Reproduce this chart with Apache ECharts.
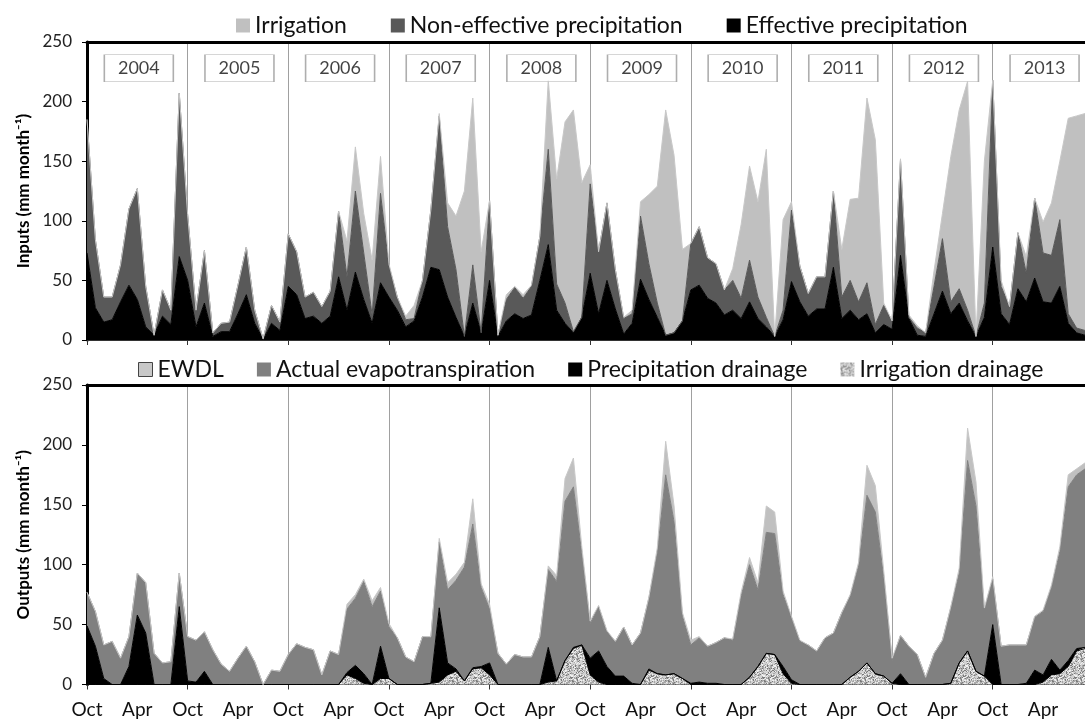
<!DOCTYPE html>
<html><head><meta charset="utf-8">
<script src="https://cdn.jsdelivr.net/npm/echarts@6/dist/echarts.min.js"></script>
<style>html,body{margin:0;padding:0;background:#fff}#c{width:1085px;height:720px}</style>
</head><body><div id="c"></div><script>
// ---- data ----
const monthAbbr = ['Oct','Nov','Dec','Jan','Feb','Mar','Apr','May','Jun','Jul','Aug','Sep'];
const tickLabels = ['Oct','Apr'];
const yearLabels = ['2004','2005','2006','2007','2008','2009','2010','2011','2012','2013'];
const categories = [];
for (let y = 0; y < 10; y++) for (let m = 0; m < 12; m++) categories.push(monthAbbr[m] + ' ' + (m < 3 ? 2003 + y : 2004 + y));

const effectivePrecip = [73,27,15,17,32,46,34,11,4,20,13,70,50,11,31,3,7,7,22,38,14,0.5,14,8,45,38,18,20,14,20,
53,25,57,34,14,48,36,25,11,16,36,61,59,36,19,3,31,6,50,3,16,22,18,21,50,80,25,14,6,19,
56,22,50,26,5,14,51,34,19,4,6,16,42,46,35,31,21,25,18,32,18,11,3,17,49,32,20,26,26,61,
18,25,17,22,6,13,9,71,18,4,3,22,41,22,31,16,3,19,78,22,13,43,32,52,32,31,45,14,6,4];
const nonEffectivePrecip = [112,57,21,19,31,64,93,34,0,22,12,137,55,14,44,3,7,8,24,40,11,0.5,15,7,44,36,18,20,14,21,
55,28,68,39,7,75,26,11,6,2,14,48,129,59,40,0,32,0,67,1,18,22,17,24,37,80,22,17,1,0,
75,52,65,33,13,8,53,30,12,0,0,0,39,49,34,33,21,25,17,35,18,8,0,8,60,30,19,27,27,64,
18,25,15,26,7,16,7,80,1,6,3,23,44,10,12,9,0,12,140,23,15,47,24,67,41,40,56,8,4,4];
const irrigation = [0,0,0,0,0,0,0,0,0,0,0,0,0,0,0,0,0,0,0,0,0,0,0,0,0,0,0,0,0,0,
0,30,37,33,46,31,2,0,3,11,0,0,2,20,45,122,140,68,0,0,4,1,3,1,0,58,88,152,186,113,
16,0,0,0,1,3,12,58,98,189,149,60,0,0,0,0,0,10,62,79,80,141,0,76,7,0,0,0,0,0,
40,68,87,155,155,2,0,1,2,2,0,13,21,122,150,192,0,119,0,5,0,0,14,0,26,44,49,164,178,182];

const irrigationDrainage = [0,0,0,0,0,0,0,0,0,0,0,0,0,0,0,0,0,0,0,0,0,0,0,0,0,0,0,0,0,0,
0,8,5,1,0,5,5,0,0,0,0,1,2,8,11,3,13,14,8,0,0,0,0,0,0,2,3,20,30,33,
8,2,0,0,0,0,0,12,9,8,9,5,0,0,0,0,0,0,0,6,15,26,25,9,1,0,0,0,0,0,
0,6,11,18,9,7,1,0,0,0,0,0,0,1,18,28,11,7,0,0,0,0,0,0,2,8,9,15,28,30];
const precipDrainage = [49,32,5,0,0,15,58,43,0,0,0,65,3,2,11,0,0,0,0,0,0,0,0,0,0,0,0,0,0,0,
0,2,11,8,0,27,0,0,0,0,0,0,62,10,2,0,1,1,10,0,0,0,0,0,0,29,0,0,1,0,
14,26,15,7,7,1,0,1,0,0,0,0,1,2,1,1,0,0,0,0,0,0,0,6,3,0,0,0,0,0,
0,0,0,0,0,0,0,9,0,0,0,0,0,0,0,0,0,0,50,0,0,0,1,12,6,13,3,5,2,1];
const actualET = [28,29,28,36,22,25,35,42,26,18,19,28,37,35,33,29,17,11,22,32,19,0,12,11,25,34,31,29,8,28,
25,53,56,77,65,46,43,39,23,19,40,38,55,61,74,95,120,66,45,26,17,25,23,23,40,65,83,133,134,77,
29,37,29,29,41,32,43,59,101,167,127,52,32,37,31,34,39,37,74,94,64,101,101,60,52,36,33,28,39,43,
60,68,88,140,135,83,19,32,32,25,6,26,37,63,75,159,138,55,38,32,33,33,32,44,53,60,99,145,145,149];
const ewdl = [0,0,0,0,0,0,0,0,0,0,0,0,0,0,0,0,0,0,0,0,0,0,0,0,0,0,0,0,0,0,
0,4,3,2,5,3,3,0,0,0,0,1,3,6,5,4,21,3,4,0,0,0,0,0,0,3,5,19,24,5,
2,1,1,0,0,0,0,1,4,28,13,3,4,1,0,0,0,1,3,6,6,22,18,3,1,1,0,0,0,0,
0,1,3,25,22,5,2,0,0,0,0,0,0,1,4,27,20,2,2,0,0,0,0,1,1,2,4,10,5,5];

// ---- style helpers ----
function makeTexture() {
  const c = document.createElement('canvas'); c.width = 24; c.height = 24;
  const ctx = c.getContext('2d');
  ctx.fillStyle = '#d2d2d2'; ctx.fillRect(0, 0, 24, 24);
  for (let y = 0; y < 24; y++) for (let x = 0; x < 24; x++) {
    const h = Math.abs(Math.sin(x * 12.9898 + y * 78.233) * 43758.5453) % 1;
    if (h < 0.12) { ctx.fillStyle = '#7a7a7a'; ctx.fillRect(x, y, 1, 1); }
    else if (h < 0.35) { ctx.fillStyle = '#a8a8a8'; ctx.fillRect(x, y, 1, 1); }
    else if (h > 0.8) { ctx.fillStyle = '#f0f0f0'; ctx.fillRect(x, y, 1, 1); }
  }
  return c;
}
const tex = makeTexture();
const FONT = 'Lato, "Open Sans", sans-serif';

const gridLeft = 87, gridWidth = 1007;
function xBottomAxis(gi, showLabels) {
  return {
    type: 'category', gridIndex: gi, data: categories, boundaryGap: false,
    axisLine: { lineStyle: { color: '#333', width: 1 } },
    axisTick: { interval: 11, length: 5, lineStyle: { color: '#333' } },
    axisLabel: {
      show: showLabels, interval: 5, margin: 16, fontSize: 19, color: '#111', fontFamily: FONT,
      formatter: (v, i) => tickLabels[(i / 6) % 2]
    },
    splitLine: { show: true, interval: 11, lineStyle: { color: '#a0a0a0', width: 1 } }
  };
}
function xTopAxis(gi) {
  return {
    type: 'category', gridIndex: gi, data: categories, boundaryGap: false, position: 'top',
    axisLine: { lineStyle: { color: '#000', width: 3 } },
    axisTick: { show: false }, axisLabel: { show: false }, splitLine: { show: false }
  };
}
function yAxis(gi, name) {
  return {
    type: 'value', gridIndex: gi, min: 0, max: 250, interval: 50,
    axisLine: { show: true, lineStyle: { color: '#000', width: 3 } },
    axisTick: { show: true, length: 5, lineStyle: { color: '#000', width: 1 } },
    axisLabel: { fontSize: 17, color: '#222', margin: 15, fontFamily: FONT },
    splitLine: { show: false },
    name: name, nameLocation: 'middle', nameGap: 50,
    nameTextStyle: { fontSize: 17, fontWeight: 'bold', color: '#000', fontFamily: FONT }
  };
}
function area(name, data, gi, stack, color, lineColor, extra) {
  return Object.assign({
    name, type: 'line', data, xAxisIndex: gi * 2, yAxisIndex: gi, stack,
    showSymbol: false, symbol: 'none', smooth: false,
    lineStyle: { width: 1, color: lineColor },
    areaStyle: { color: color, opacity: 1 },
    itemStyle: { color: color }
  }, extra || {});
}

const yearPoints = yearLabels.map((y, k) => [12 * k + 6, 228]);

const option = {
  animation: false,
  backgroundColor: '#fff',
  textStyle: { fontFamily: FONT },
  grid: [
    { left: gridLeft, width: gridWidth, top: 42, height: 298 },
    { left: gridLeft, width: gridWidth, top: 385, height: 299.5 }
  ],
  legend: [
    {
      left: 236, top: 14, padding: 0, itemWidth: 14, itemHeight: 14, itemGap: 44, icon: 'rect',
      textStyle: { fontSize: 23, color: '#111', fontFamily: FONT },
      data: [
        { name: 'Irrigation', itemStyle: { color: '#c0c0c0' } },
        { name: 'Non-effective precipitation', itemStyle: { color: '#595959' } },
        { name: 'Effective precipitation', itemStyle: { color: '#000' } }
      ]
    },
    {
      left: 138, top: 358, padding: 0, itemWidth: 14, itemHeight: 14, itemGap: 33, icon: 'rect',
      textStyle: { fontSize: 23, color: '#111', fontFamily: FONT },
      data: [
        { name: 'EWDL', itemStyle: { color: '#c8c8c8', borderColor: '#444', borderWidth: 1 } },
        { name: 'Actual evapotranspiration', itemStyle: { color: '#808080' } },
        { name: 'Precipitation drainage', itemStyle: { color: '#000' } },
        { name: 'Irrigation drainage', itemStyle: { color: { image: tex, repeat: 'repeat' } } }
      ]
    }
  ],
  xAxis: [xBottomAxis(0, false), xTopAxis(0), xBottomAxis(1, true), xTopAxis(1)],
  yAxis: [yAxis(0, 'Inputs (mm month\u207B\u00B9)'), yAxis(1, 'Outputs (mm month\u207B\u00B9)')],
  series: [
    area('Effective precipitation', effectivePrecip, 0, 'in', '#000', '#000'),
    area('Non-effective precipitation', nonEffectivePrecip, 0, 'in', '#595959', '#595959'),
    area('Irrigation', irrigation, 0, 'in', '#c0c0c0', '#c8c8c8'),
    area('Irrigation drainage', irrigationDrainage, 1, 'out', { image: tex, repeat: 'repeat' }, '#000', { lineStyle: { width: 1, color: '#000' } }),
    area('Precipitation drainage', precipDrainage, 1, 'out', '#000', '#000'),
    area('Actual evapotranspiration', actualET, 1, 'out', '#808080', '#808080'),
    area('EWDL', ewdl, 1, 'out', '#c0c0c0', '#c8c8c8'),
    {
      name: 'years', type: 'scatter', xAxisIndex: 0, yAxisIndex: 0, data: yearPoints, z: 5,
      symbol: 'rect', symbolSize: [69, 27], symbolOffset: [1.5, 0],
      itemStyle: { color: '#fff', borderColor: '#9a9a9a', borderWidth: 1 },
      label: { show: true, position: 'inside', fontSize: 18, color: '#111', fontFamily: FONT,
        formatter: p => yearLabels[p.dataIndex] }
    }
  ]
};
const chart = echarts.init(document.getElementById('c'), null, { renderer: 'canvas' });
chart.setOption(option);
</script></body></html>
